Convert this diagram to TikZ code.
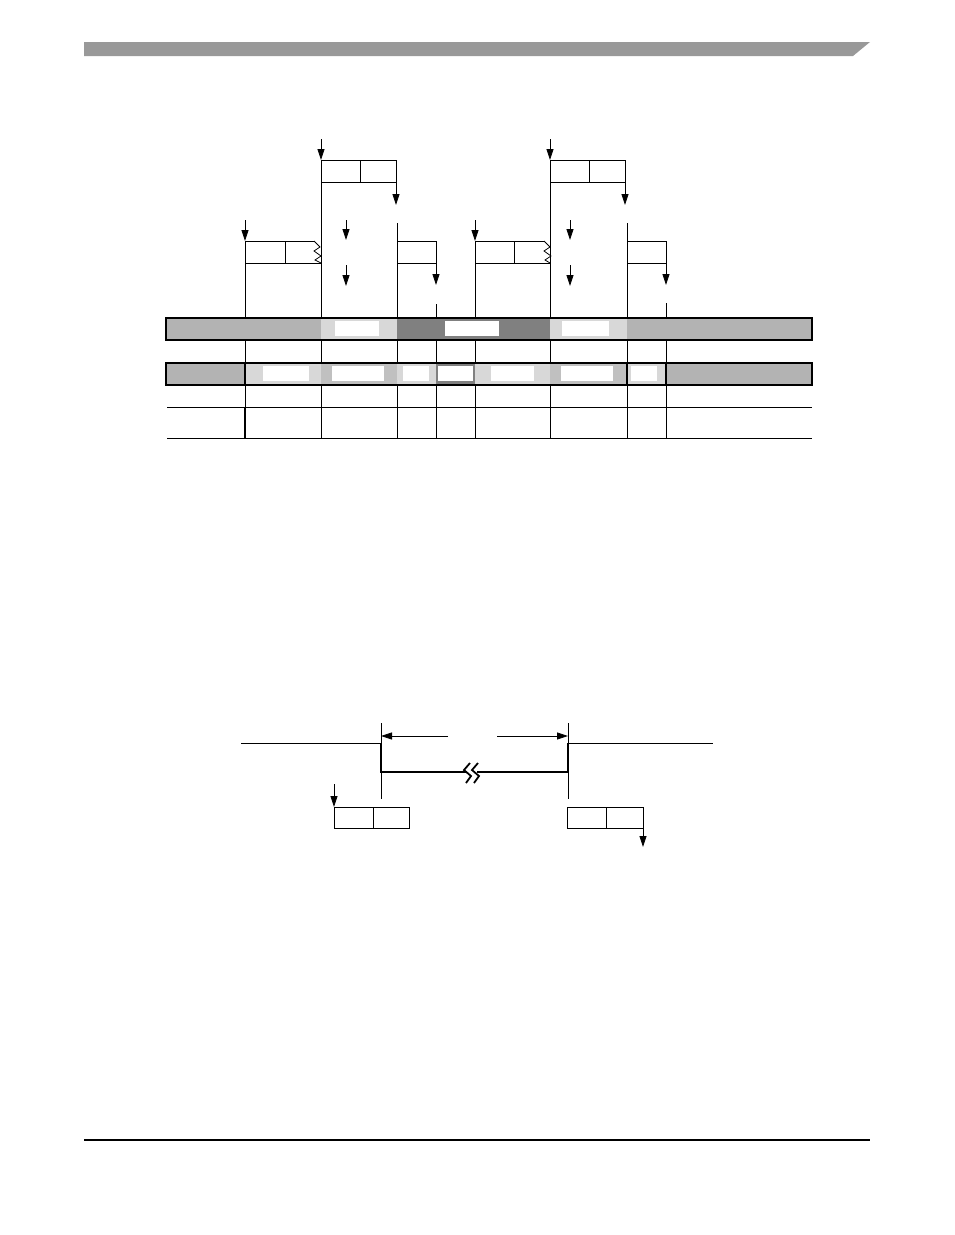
\documentclass[tikz,border=0pt]{standalone}
\usetikzlibrary{arrows.meta,positioning}
\definecolor{hdrgray}{RGB}{153,153,153}
\definecolor{bargray}{RGB}{179,179,179}
\definecolor{slotgray}{RGB}{192,192,192}
\definecolor{lightdots}{RGB}{216,216,216}
\definecolor{darkdots}{RGB}{128,128,128}
\tikzstyle{cell} = [rectangle, draw, line width=0.8pt, minimum height=22pt, inner sep=0pt, outer sep=0pt, anchor=north west]
\tikzstyle{arrow} = [line width=0.8pt, -{Triangle[length=11pt,width=7pt]}]
\tikzstyle{tick} = [line width=0.8pt]
\tikzstyle{hole} = [fill=white]
\tikzstyle{barline} = [line width=1.2pt]

\begin{document}
\begin{tikzpicture}[x=1pt, y=-1pt, line width=0.8pt]
\useasboundingbox (0,0) rectangle (954,1235);
\fill[hdrgray] (84,42) -- (870,42) -- (853,56) -- (84,56) -- cycle;
\draw[line width=1.2pt] (84,1140) -- (870,1140);

\foreach \x/\y in {245/263, 321/160, 397/223, 436/304, 475/263, 550/160, 627/223, 666/303}
  \draw[tick] (\x,\y) -- (\x,438);
\draw[line width=1.8pt] (245,407) -- (245,438);
\draw[tick] (167,407) -- (812,407);
\draw[tick] (167,438) -- (812,438);

\node (fa1) [cell, minimum width=40pt] at (245,241) {};
\draw (fa1.north east) -- (314,241);
\draw (fa1.south east) -- (321,263);
\draw (314,241) -- (320,247) -- (314,251) -- (321,256) -- (315,260) -- (321,263);
\node (fb1) [cell, minimum width=39pt] at (321,160) {};
\node (fb2) [cell, minimum width=36pt] at (fb1.north east) {};
\node (fc) [cell, minimum width=39pt] at (397,241) {};
\node (ga1) [cell, minimum width=39pt] at (475,241) {};
\draw (ga1.north east) -- (544,241);
\draw (ga1.south east) -- (550,263);
\draw (544,241) -- (550,247) -- (544,251) -- (551,256) -- (545,260) -- (550,263);
\node (gb1) [cell, minimum width=39pt] at (550,160) {};
\node (gb2) [cell, minimum width=36pt] at (gb1.north east) {};
\node (gc) [cell, minimum width=39pt] at (627,241) {};

\coordinate (fa-in) at (245,220);
\coordinate (fb-in) at (321,139);
\coordinate (fb-out) at (396,205);
\coordinate (fc-out) at (436,285);
\coordinate (ga-in) at (475,220);
\coordinate (gb-in) at (550,139);
\coordinate (gb-out) at (625,205);
\coordinate (gc-out) at (666,285);
\draw[arrow] (fa-in) -- (fa1.north west);
\draw[arrow] (fb-in) -- (fb1.north west);
\draw[arrow] (fb2.south east) -- (fb-out);
\draw[arrow] (fc.south east) -- (fc-out);
\draw[arrow] (ga-in) -- (ga1.north west);
\draw[arrow] (gb-in) -- (gb1.north west);
\draw[arrow] (gb2.south east) -- (gb-out);
\draw[arrow] (gc.south east) -- (gc-out);
\foreach \x in {346, 570} {
  \draw[arrow] (\x,220) -- (\x,240);
  \draw[arrow] (\x,265) -- (\x,286);
}

\fill[bargray] (166,318) rectangle (321,340);
\fill[lightdots] (321,318) rectangle (397,340);
\fill[darkdots] (397,318) rectangle (550,340);
\fill[lightdots] (550,318) rectangle (627,340);
\fill[bargray] (627,318) rectangle (812,340);
\foreach \a/\b in {335/379, 445/499, 562/609}
  \fill[hole] (\a,321) rectangle (\b,336);
\draw[barline] (166,318) rectangle (812,340);

\fill[bargray] (166,363) rectangle (245,385);
\fill[lightdots] (245,363) rectangle (321,385);
\fill[slotgray] (321,363) rectangle (397,385);
\fill[lightdots] (397,363) rectangle (436,385);
\fill[darkdots] (436,363) rectangle (475,385);
\fill[lightdots] (475,363) rectangle (550,385);
\fill[slotgray] (550,363) rectangle (627,385);
\fill[lightdots] (627,363) rectangle (666,385);
\fill[bargray] (666,363) rectangle (812,385);
\foreach \a/\b in {263/309, 332/384, 403/429, 438/473, 491/534, 561/613, 631/657}
  \fill[hole] (\a,366) rectangle (\b,381);
\draw[barline] (166,363) rectangle (812,385);
\foreach \x in {245, 627, 666}
  \draw[barline] (\x,363) -- (\x,385);

\draw[tick] (241,743) -- (381,743);
\draw[line width=1.8pt] (381,743) -- (381,772) -- (467,772);
\draw[line width=1.8pt] (470,763) -- (464,770) -- (471,776) -- (466,783);
\draw[line width=1.8pt] (478,763) -- (472,770) -- (479,776) -- (474,783);
\draw[line width=1.8pt] (477,772) -- (568,772) -- (568,743);
\draw[tick] (568,743) -- (713,743);
\draw[tick] (381,723) -- (381,799);
\draw[tick] (568,723) -- (568,799);
\coordinate (gap-l) at (448,736);
\coordinate (gap-r) at (497,736);
\draw[arrow] (gap-l) -- (381,736);
\draw[arrow] (gap-r) -- (568,736);

\node (ha1) [cell, minimum width=39pt, minimum height=21pt] at (334,807) {};
\node (ha2) [cell, minimum width=36pt, minimum height=21pt] at (ha1.north east) {};
\node (hb1) [cell, minimum width=39pt, minimum height=21pt] at (567,807) {};
\node (hb2) [cell, minimum width=37pt, minimum height=21pt] at (hb1.north east) {};
\coordinate (ha-in) at (334,784);
\coordinate (hb-out) at (643,847);
\draw[arrow] (ha-in) -- (ha1.north west);
\draw[arrow] (hb2.south east) -- (hb-out);
\end{tikzpicture}
\end{document}
